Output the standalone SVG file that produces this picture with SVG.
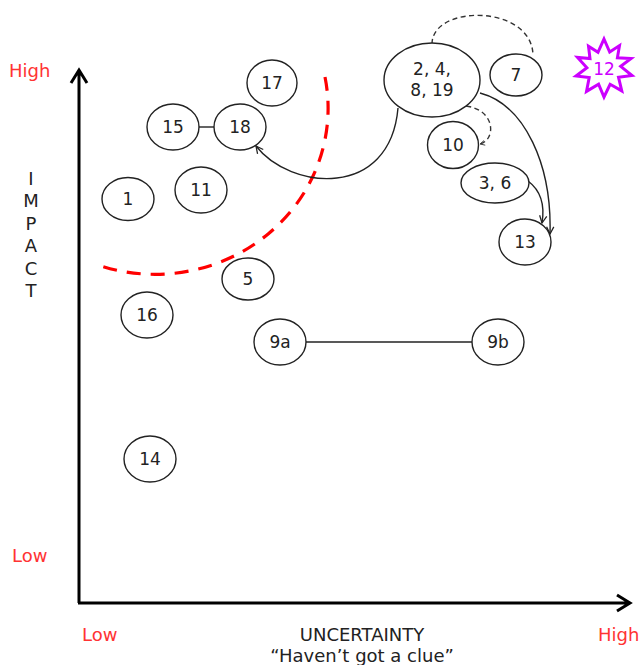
<svg xmlns="http://www.w3.org/2000/svg" width="642" height="665" viewBox="0 0 642 665">
<style>
.n ellipse{fill:#fff;stroke:#222;stroke-width:1.4}
.n text{font-family:"DejaVu Sans",Verdana,sans-serif;font-size:17px;fill:#222;text-anchor:middle}
.lbl{font-family:"DejaVu Sans",Verdana,sans-serif;font-size:18px}
.red{fill:#ff3333}
.dark{fill:#222}
.axis{stroke:#000;stroke-width:3;fill:none}
.conn{stroke:#222;stroke-width:1.4;fill:none}
.dash{stroke:#333;stroke-width:1.4;fill:none;stroke-dasharray:5 3.5}
</style>
<defs>
<marker id="ah" viewBox="0 0 10 10" refX="9" refY="5" markerWidth="9" markerHeight="9" markerUnits="userSpaceOnUse" orient="auto">
<path d="M1,1 L9,5 L1,9" fill="none" stroke="#222" stroke-width="1.4"/>
</marker>
<marker id="ahs" viewBox="0 0 10 10" refX="9" refY="5" markerWidth="6" markerHeight="6" markerUnits="userSpaceOnUse" orient="auto">
<path d="M1,1 L9,5 L1,9" fill="none" stroke="#333" stroke-width="1.4"/>
</marker>
</defs>
<rect width="642" height="665" fill="#fff"/>
<g id="axes">
<path class="axis" d="M79,603 V70 M71,83 L79,70 L87,83"/>
<path class="axis" d="M78,603 H630 M617,595 L630,603 L617,611"/>
</g>
<g id="labels">
<text class="lbl red" x="9" y="77">High</text>
<text class="lbl red" x="12" y="562">Low</text>
<text class="lbl red" x="82" y="641">Low</text>
<text class="lbl red" x="598" y="641">High</text>
<text class="lbl dark" x="362" y="641" text-anchor="middle">UNCERTAINTY</text>
<text class="lbl dark" x="362" y="662" text-anchor="middle">“Haven’t got a clue”</text>
<g class="lbl dark" text-anchor="middle">
<text x="31" y="185">I</text>
<text x="31" y="207">M</text>
<text x="31" y="230">P</text>
<text x="31" y="252">A</text>
<text x="31" y="275">C</text>
<text x="31" y="297">T</text>
</g>
</g>
<g id="boundary">
<path d="M325,77 A173,166 0 0 1 98,265" fill="none" stroke="#ff0000" stroke-width="3.2" stroke-dasharray="14 10"/>
</g>
<g id="connectors">
<line class="conn" x1="199" y1="127" x2="214" y2="127"/>
<line class="conn" x1="306" y1="342" x2="472" y2="342"/>
<path class="conn" d="M398,108 C390,200 290,190 256,146" marker-end="url(#ah)"/>
<path class="conn" d="M480,93 C525,105 552,165 550,234" marker-end="url(#ah)"/>
<path class="conn" d="M528,181 C540,190 545,205 542,223" marker-end="url(#ah)"/>
<path class="dash" d="M432,44 C432,4 533,4 533,56"/>
<path class="dash" d="M466,106 C496,110 496,140 480,144" marker-end="url(#ahs)"/>
</g>
<g id="n17" class="n"><ellipse cx="272" cy="83" rx="25" ry="23"/><text x="272" y="89">17</text></g>
<g id="n15" class="n"><ellipse cx="173" cy="127" rx="26" ry="23"/><text x="173" y="133">15</text></g>
<g id="n18" class="n"><ellipse cx="240" cy="127" rx="26" ry="23"/><text x="240" y="133">18</text></g>
<g id="n11" class="n"><ellipse cx="201" cy="190" rx="26" ry="23"/><text x="201" y="196">11</text></g>
<g id="n1" class="n"><ellipse cx="128" cy="199" rx="26" ry="21.5"/><text x="128" y="205">1</text></g>
<g id="n5" class="n"><ellipse cx="248" cy="279" rx="26" ry="21"/><text x="248" y="285">5</text></g>
<g id="n16" class="n"><ellipse cx="147" cy="315" rx="26" ry="23"/><text x="147" y="321">16</text></g>
<g id="n9a" class="n"><ellipse cx="280" cy="342" rx="26" ry="23"/><text x="280" y="348">9a</text></g>
<g id="n9b" class="n"><ellipse cx="498" cy="342" rx="26" ry="23"/><text x="498" y="348">9b</text></g>
<g id="n14" class="n"><ellipse cx="150" cy="459" rx="26" ry="23"/><text x="150" y="465">14</text></g>
<g id="n2" class="n"><ellipse cx="432" cy="80" rx="48" ry="37"/><text x="432" y="75">2, 4,</text><text x="432" y="96">8, 19</text></g>
<g id="n7" class="n"><ellipse cx="516" cy="75" rx="26" ry="21"/><text x="516" y="81">7</text></g>
<g id="n10" class="n"><ellipse cx="453" cy="145" rx="25.5" ry="23.5"/><text x="453" y="151">10</text></g>
<g id="n36" class="n"><ellipse cx="495" cy="183" rx="34" ry="20"/><text x="495" y="189">3, 6</text></g>
<g id="n13" class="n"><ellipse cx="525" cy="242" rx="26" ry="23"/><text x="525" y="248">13</text></g>
<g id="n12">
<polygon points="604,39 609.7,52.1 619.5,45.6 617.4,57.8 631.1,58.5 620.7,66.4 632,75.5 618.5,77.2 621.8,90.9 610.1,84.3 604,97 598.6,84.2 586.5,91.4 589.2,77.6 576,76 586.9,67.7 577.5,57.4 590,58.6 588.5,46.2 598,52.3" fill="#fff" stroke="#cc00ff" stroke-width="3" stroke-linejoin="miter"/>
<text x="604" y="75" text-anchor="middle" font-family="DejaVu Sans,Verdana,sans-serif" font-size="17" fill="#cc00ff">12</text>
</g>
</svg>
